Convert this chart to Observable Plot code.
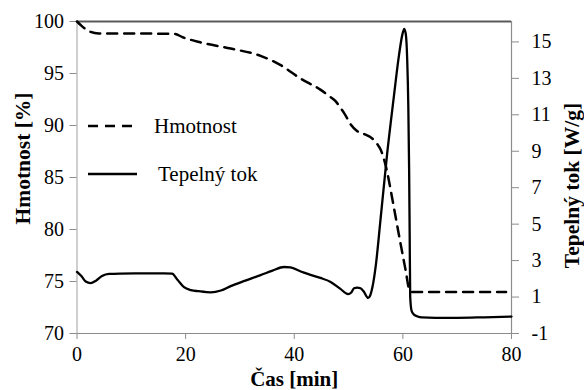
<!DOCTYPE html>
<html>
<head>
<meta charset="utf-8">
<script src="https://cdn.jsdelivr.net/npm/d3@7"></script>
<script src="https://cdn.jsdelivr.net/npm/@observablehq/plot@0.6"></script>
<style>
  body { margin: 0; background: #fff; }
  #chart { position: relative; width: 584px; height: 390px; }
  #legend { position: absolute; left: 0; top: 0; pointer-events: none; }
</style>
</head>
<body>
<div id="chart"></div>
<script>
// Hmotnost (mass, %) against time (min)
const massTime = [0, 0.8, 2.5, 4, 10, 18, 19.4, 22.7, 28.3, 33.8, 37.5, 41.2, 44.8, 46.5, 47.6, 48.5, 49.3, 50.4, 51.5, 53.0, 54.0, 55.3, 55.9, 56.5, 57.2, 58.0, 59.3, 60.5, 61.2, 61.7, 70, 79];
const massPct  = [100, 99.6, 99.0, 98.85, 98.85, 98.8, 98.5, 98.0, 97.4, 96.7, 95.8, 94.5, 93.45, 92.8, 92.35, 91.7, 91.1, 90.1, 89.5, 89.15, 88.9, 88.2, 87.7, 86.8, 85.3, 83.1, 79.4, 76.1, 74.2, 74.0, 74.0, 74.0];

// Tepelný tok (heat flow, W/g) against time (min)
const heatTime = [0, 0.8, 1.6, 2.5, 3.5, 4.6, 5.9, 8, 12, 16, 17.5, 18.5, 19.7, 21, 22.4, 24.6, 26.5, 28.3, 31, 33.8, 36, 38.1, 39.3, 41.2, 43, 44.8, 46.7, 48.5, 49.9, 50.5, 51.0, 51.6, 52.2, 52.8, 53.6, 54.0, 54.4, 55.0, 55.9, 57.1, 58.3, 59.3, 59.9, 60.25, 60.55, 60.8, 61.0, 61.15, 61.25, 61.35, 61.6, 62.0, 62.6, 63.5, 66, 70, 75, 80];
const heatFlow = [2.38, 2.15, 1.85, 1.76, 1.9, 2.15, 2.27, 2.29, 2.30, 2.30, 2.28, 1.95, 1.54, 1.38, 1.32, 1.26, 1.36, 1.6, 1.9, 2.2, 2.45, 2.65, 2.63, 2.4, 2.22, 2.05, 1.83, 1.45, 1.16, 1.25, 1.48, 1.52, 1.48, 1.3, 0.95, 1.1, 1.55, 2.7, 5.3, 8.85, 11.9, 14.3, 15.4, 15.72, 15.4, 14.0, 11.5, 8.0, 4.5, 1.0, 0.25, 0.05, -0.05, -0.12, -0.14, -0.14, -0.11, -0.07];

// Axis ticks
const timeTicks = [0, 20, 40, 60, 80];
const massTicks = [70, 75, 80, 85, 90, 95, 100];
const heatTicks = [-1, 1, 3, 5, 7, 9, 11, 13, 15];

// Scale extents: left axis (mass) and right axis (heat flow)
const massDomain = [70, 100];
const heatDomain = [-1, 16.12];

// Heat flow is drawn on the mass scale via a linear mapping
const toMass = w => massDomain[0] + (w - heatDomain[0]) * (massDomain[1] - massDomain[0]) / (heatDomain[1] - heatDomain[0]);
const fromMass = m => heatDomain[0] + (m - massDomain[0]) * (heatDomain[1] - heatDomain[0]) / (massDomain[1] - massDomain[0]);

const mass = massTime.map((t, i) => ({t, v: massPct[i]}));
const heat = heatTime.map((t, i) => ({t, v: toMass(heatFlow[i])}));

const serif = "Liberation Serif, Times New Roman, serif";
const axisColor = "#8c8c8c";
const titleFont = {fontFamily: serif, fontWeight: "bold", fontSize: 21.5, fill: "black", textAnchor: "middle", lineAnchor: "middle"};

const chart = Plot.plot({
  width: 584,
  height: 390,
  marginLeft: 76.5,
  marginRight: 73,
  marginTop: 21,
  marginBottom: 57,
  style: {fontFamily: serif, fontSize: "20px", color: "black", background: "white", overflow: "visible"},
  x: {domain: [0, 80]},
  y: {domain: massDomain},
  marks: [
    // frame lines
    Plot.ruleX([0], {stroke: "#b0b0b0", strokeWidth: 1.2}),
    Plot.ruleX([80], {stroke: axisColor, strokeWidth: 1.2}),
    Plot.ruleY([70], {stroke: axisColor, strokeWidth: 1.2}),
    Plot.ruleY([100], {stroke: "#5a5a5a", strokeWidth: 2}),
    // axes
    Plot.axisX(timeTicks, {anchor: "bottom", tickSize: 6, tickPadding: 7, stroke: axisColor, fill: "black", label: null, fontFamily: serif}),
    Plot.axisY(massTicks, {anchor: "left", tickSize: 7, tickPadding: 6, stroke: axisColor, fill: "black", label: null, fontFamily: serif}),
    Plot.axisY(heatTicks.map(toMass), {anchor: "right", tickSize: 7, tickPadding: 13, stroke: axisColor, fill: "black", label: null, fontFamily: serif,
      tickFormat: d => String(Math.round(fromMass(d)))}),
    // series
    Plot.line(heat, {x: "t", y: "v", stroke: "black", strokeWidth: 2.3, curve: "monotone-x"}),
    Plot.line(mass, {x: "t", y: "v", stroke: "black", strokeWidth: 2.5, strokeDasharray: "10,7", curve: "monotone-x"}),
    // axis titles
    Plot.text(["Hmotnost [%]"], {text: d => d, frameAnchor: "left", rotate: -90, dx: -54, dy: -19, ...titleFont}),
    Plot.text(["Tepelný tok [W/g]"], {text: d => d, frameAnchor: "right", rotate: -90, dx: 61, dy: 8, ...titleFont}),
    Plot.text(["Čas [min]"], {text: d => d, frameAnchor: "bottom", ...titleFont, fontSize: 21, lineAnchor: "bottom", dy: 52})
  ]
});

const host = document.getElementById("chart");
host.appendChild(chart);

// Legend inside the plot area
const legendItems = [
  {label: "Hmotnost", dash: "10,7", x1: 88, x2: 134, y: 126, tx: 154},
  {label: "Tepelný tok", dash: null, x1: 88, x2: 137, y: 174, tx: 158}
];
const legend = d3.create("svg")
  .attr("id", "legend")
  .attr("width", 584)
  .attr("height", 390);
const g = legend.selectAll("g").data(legendItems).join("g");
g.append("line")
  .attr("x1", d => d.x1).attr("x2", d => d.x2)
  .attr("y1", d => d.y).attr("y2", d => d.y)
  .attr("stroke", "black").attr("stroke-width", 2.4)
  .attr("stroke-dasharray", d => d.dash);
g.append("text")
  .attr("x", d => d.tx).attr("y", d => d.y)
  .attr("dy", "0.35em")
  .attr("font-family", serif)
  .attr("font-size", 21)
  .text(d => d.label);
host.appendChild(legend.node());
</script>
</body>
</html>
